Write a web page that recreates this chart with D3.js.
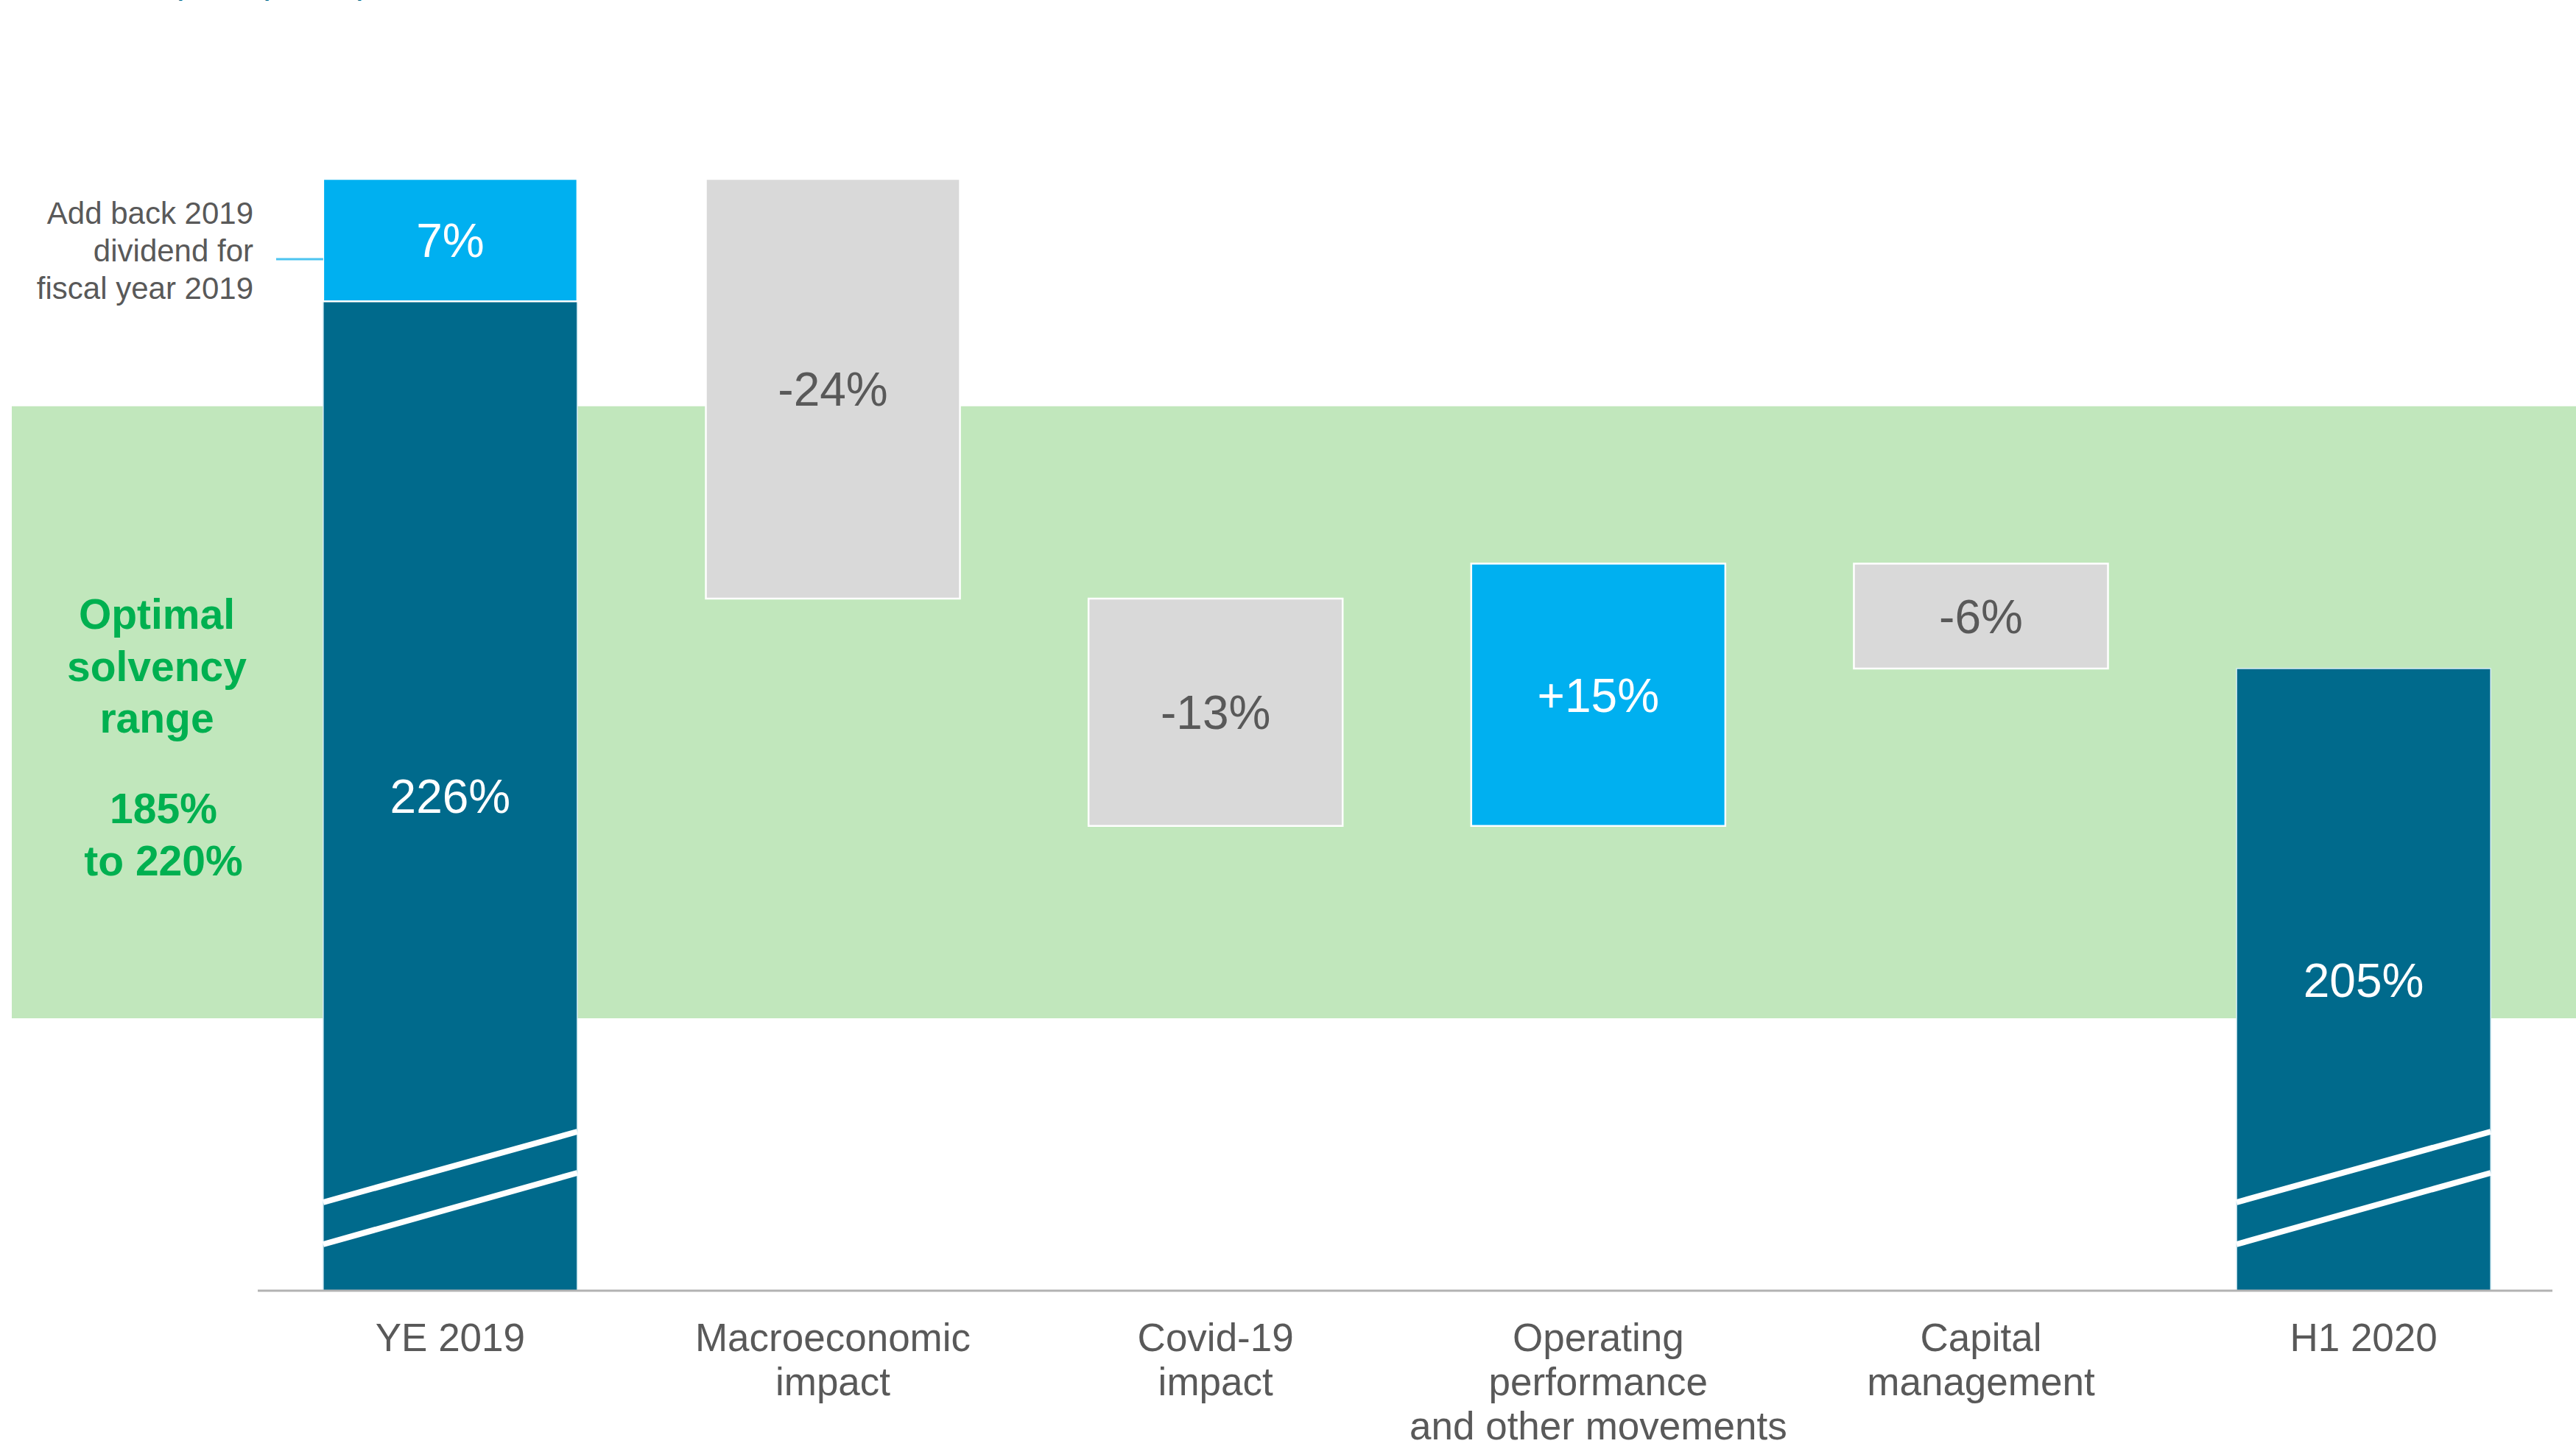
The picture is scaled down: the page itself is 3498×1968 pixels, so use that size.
<!DOCTYPE html>
<html>
<head>
<meta charset="utf-8">
<script src="https://cdn.jsdelivr.net/npm/d3@7"></script>
<style>
  html, body { margin: 0; padding: 0; background: #ffffff; }
  svg { display: block; }
  text { font-family: "Liberation Sans", Arial, sans-serif; }
</style>
</head>
<body>
<svg id="chart" width="3498" height="1968"></svg>
<script>
// Solvency ratio walk, YE 2019 -> H1 2020 (values in % points)
const categories = ["YE 2019", "Macroeconomic impact", "Covid-19 impact",
  "Operating performance and other movements", "Capital management", "H1 2020"];
const categoryLines = [
  ["YE 2019"],
  ["Macroeconomic", "impact"],
  ["Covid-19", "impact"],
  ["Operating", "performance", "and other movements"],
  ["Capital", "management"],
  ["H1 2020"]
];
const startValue = 226;          // YE 2019 ratio
const dividendAddBack = 7;       // 2019 dividend added back
const movements = [-24, -13, 15, -6];   // macro, covid, operating, capital
const endValue = 205;            // H1 2020 ratio
const optimalRange = [185, 220];
const valueLabels = ["226%", "7%", "-24%", "-13%", "+15%", "-6%", "205%"];

const W = 3498, H = 1968;
const svg = d3.select("#chart");

const colors = {
  total: "#006a8c",
  up: "#00b0f0",
  down: "#d9d9d9",
  band: "#c1e7bc",
  bandText: "#00b050",
  text: "#595959",
  axis: "#b3b3b3"
};

// Scales
const x = d3.scaleBand()
  .domain(categories)
  .range([350, 3471])
  .paddingInner(0.336)
  .paddingOuter(0.171);

const y = d3.scaleLinear()
  .domain([optimalRange[0], startValue + dividendAddBack])
  .range([1383, 243]);

const baseY = 1753;   // broken axis floor

// Build waterfall segments
const segments = [];
segments.push({ cat: categories[0], y0: null, y1: startValue, fill: colors.total, label: valueLabels[0], text: "#ffffff", total: true });
segments.push({ cat: categories[0], y0: startValue, y1: startValue + dividendAddBack, fill: colors.up, label: valueLabels[1], text: "#ffffff" });
let level = startValue + dividendAddBack;
movements.forEach((m, i) => {
  const next = level + m;
  segments.push({
    cat: categories[i + 1], y0: level, y1: next,
    fill: m >= 0 ? colors.up : colors.down,
    label: valueLabels[i + 2],
    text: m >= 0 ? "#ffffff" : colors.text
  });
  level = next;
});
segments.push({ cat: categories[5], y0: null, y1: endValue, fill: colors.total, label: valueLabels[6], text: "#ffffff", total: true });

// Heading running off the top edge
svg.append("text")
  .attr("x", 232).attr("y", -9)
  .attr("font-size", 48)
  .attr("fill", "#006a8c")
  .text("(in %-points)");

// Optimal solvency range band
svg.append("rect")
  .attr("x", 16).attr("width", W - 16)
  .attr("y", y(optimalRange[1]))
  .attr("height", y(optimalRange[0]) - y(optimalRange[1]))
  .attr("fill", colors.band);

// Band caption
const cap1 = svg.append("text")
  .attr("text-anchor", "middle")
  .attr("font-size", 57).attr("font-weight", "bold")
  .attr("fill", colors.bandText);
["Optimal", "solvency", "range"].forEach((t, i) => {
  cap1.append("tspan").attr("x", 213).attr("y", 854 + i * 70.5).text(t);
});
const cap2 = svg.append("text")
  .attr("text-anchor", "middle")
  .attr("font-size", 57).attr("font-weight", "bold")
  .attr("fill", colors.bandText);
[optimalRange[0] + "%", "to " + optimalRange[1] + "%"].forEach((t, i) => {
  cap2.append("tspan").attr("x", 222).attr("y", 1118 + i * 71).text(t);
});

// Bars
const bars = svg.append("g");
segments.forEach(s => {
  const top = s.y0 === null ? y(s.y1) : y(Math.max(s.y0, s.y1));
  const bottom = s.y0 === null ? baseY : y(Math.min(s.y0, s.y1));
  s.top = top; s.bottom = bottom;
  bars.append("rect")
    .attr("x", x(s.cat)).attr("width", x.bandwidth())
    .attr("y", top).attr("height", bottom - top)
    .attr("fill", s.fill)
    .attr("stroke", s.total ? "#d6ecf5" : "#ffffff")
    .attr("stroke-width", s.total ? 1.5 : 2.5);
});

// Axis break marks on the full bars
segments.filter(s => s.total).forEach(s => {
  const x0 = x(s.cat), x1 = x(s.cat) + x.bandwidth();
  [[120, 216], [63, 160]].forEach(([l, r]) => {
    bars.append("line")
      .attr("x1", x0).attr("y1", baseY - l)
      .attr("x2", x1).attr("y2", baseY - r)
      .attr("stroke", "#ffffff").attr("stroke-width", 8);
  });
});

// Value labels
segments.forEach(s => {
  svg.append("text")
    .attr("x", x(s.cat) + x.bandwidth() / 2)
    .attr("y", (s.top + s.bottom) / 2)
    .attr("dy", "0.36em")
    .attr("text-anchor", "middle")
    .attr("font-size", 64)
    .attr("fill", s.text)
    .text(s.label);
});

// Dividend annotation
svg.append("line")
  .attr("x1", 375).attr("x2", x(categories[0]))
  .attr("y1", 352).attr("y2", 352)
  .attr("stroke", "#4cc4f0").attr("stroke-width", 3);
const ann = svg.append("text")
  .attr("text-anchor", "end")
  .attr("font-size", 42)
  .attr("fill", colors.text);
["Add back 2019", "dividend for", "fiscal year 2019"].forEach((t, i) => {
  ann.append("tspan").attr("x", 344).attr("y", 304 + i * 51).text(t);
});

// Category axis
const axis = d3.axisBottom(x).tickSize(0).tickFormat("");
const gAxis = svg.append("g").attr("transform", `translate(0,${baseY})`).call(axis);
gAxis.select(".domain").attr("stroke", colors.axis).attr("stroke-width", 3)
  .attr("d", `M350,0H3466`);

categories.forEach((c, i) => {
  const t = svg.append("text")
    .attr("text-anchor", "middle")
    .attr("font-size", 53)
    .attr("fill", colors.text);
  categoryLines[i].forEach((line, j) => {
    t.append("tspan")
      .attr("x", x(c) + x.bandwidth() / 2)
      .attr("y", 1835 + j * 60)
      .text(line);
  });
});
</script>
</body>
</html>
